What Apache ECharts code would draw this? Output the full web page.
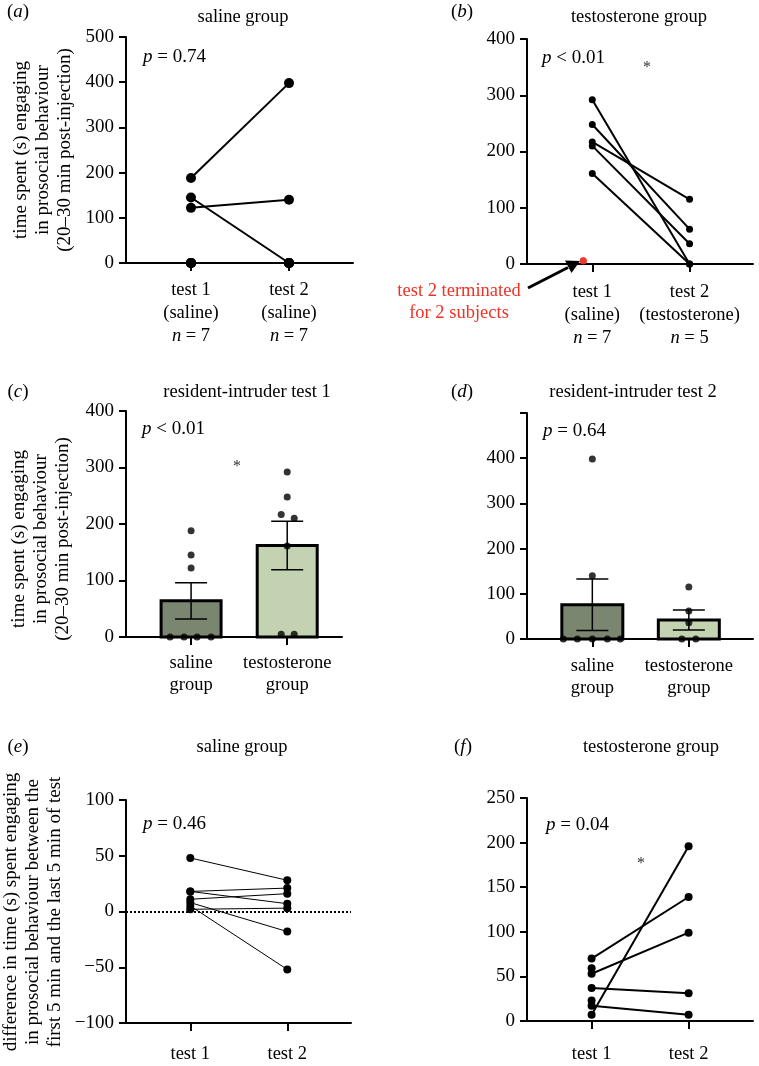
<!DOCTYPE html>
<html><head><meta charset="utf-8">
<script src="https://cdn.jsdelivr.net/npm/echarts@6/dist/echarts.min.js"></script>
<style>html,body{margin:0;padding:0;background:#fff}#c{width:759px;height:1066px}</style>
</head><body><div id="c"></div>
<script>
// ---------------- data ----------------
// (a) saline group, paired test1 -> test2
const aCats = ['test 1', 'test 2'];
const aSub = ['(saline)', '(saline)'];
const aN = [7, 7];
const aTest1 = [188, 122, 145, 0, 0, 0, 0];
const aTest2 = [398, 140, 0, 0, 0, 0, 0];
// (b) testosterone group (null = test 2 terminated)
const bCats = ['test 1', 'test 2'];
const bSub = ['(saline)', '(testosterone)'];
const bN = [7, 5];
const bTest1 = [292, 248, 217, 210, 161, 6, 6];
const bTest2 = [0, 62, 115, 36, 0, null, null];
// (c) resident-intruder test 1
const cCats = ['saline', 'testosterone'];
const cMeans = [64, 162];
const cSem = [32, 43];
const cSaline = [188, 145, 122, 0, 0, 0, 0];
const cTestost = [292, 248, 217, 210, 161, 5, 5];
// (d) resident-intruder test 2
const dCats = ['saline', 'testosterone'];
const dMeans = [76, 42];
const dSem = [57, 22];
const dSaline = [398, 140, 0, 0, 0, 0, 0];
const dTestost = [115, 62, 36, 0, 0];
// (e) saline group, difference first 5 min - last 5 min
const eCats = ['test 1', 'test 2'];
const eTest1 = [48, 18, 18, 11, 8, 5, 2];
const eTest2 = [28, 21, 7, 16, -18, -52, 3];
// (f) testosterone group
const fCats = ['test 1', 'test 2'];
const fTest1 = [70, 53, 37, 17, 7, 59, 23];
const fTest2 = [139, 99, 31, 7, 196, null, null];
// y axis ranges [min, max, interval]
const aY = [0, 500, 100], bY = [0, 400, 100], cY = [0, 400, 100], dY = [0, 500, 100], eY = [-100, 100, 50], fY = [0, 250, 50];

// ---------------- layout / style (not data) ----------------
const cSalJit = [0, 0, 0, -21, -7, 6, 20];
const cTesJit = [0, 0, -6, 7, 0, -6, 7];
const dSalJit = [0, 0, -29, -15, 0, 15, 28];
const dTesJit = [0, 0, 0, -7, 7];
const FONT = '"Liberation Serif","Times New Roman",serif';
const BAR_COLORS = ['#7b8670', '#c3d3b1'];
const RED = '#ee3326';

const chart = echarts.init(document.getElementById('c'), null, {renderer: 'canvas'});

const grids = [
  {left: 126, top: 37, width: 227, height: 226},
  {left: 527, top: 39, width: 226, height: 225},
  {left: 126, top: 411, width: 216, height: 226},
  {left: 527, top: 413, width: 226, height: 226},
  {left: 126, top: 800, width: 225, height: 225},
  {left: 527, top: 798, width: 226, height: 225}
];
const xRange = [[0.337, 2.653], [0.329, 2.652], [0.323, 2.57], [0.323, 2.665], [0.337, 2.657], [0.334, 2.664]];

const italicRich = {i: {fontStyle: 'italic', fontFamily: FONT, fontSize: 18.5, color: '#000', lineHeight: 23}};

function xAx(gi, fmt, margin, lh) {
  return {
    type: 'value', gridIndex: gi, min: xRange[gi][0], max: xRange[gi][1],
    axisLine: {onZero: false, lineStyle: {color: '#000', width: 2}},
    axisTick: {customValues: [1, 2], length: 8, lineStyle: {color: '#000', width: 2}},
    axisLabel: {customValues: [1, 2], formatter: fmt, margin: margin, color: '#000', fontSize: 18.5,
      fontFamily: FONT, lineHeight: lh, rich: italicRich},
    splitLine: {show: false}
  };
}
function yAx(gi, r, fmt) {
  return {
    type: 'value', gridIndex: gi, min: r[0], max: r[1], interval: r[2],
    axisLine: {onZero: false, show: true, lineStyle: {color: '#000', width: 2}},
    axisTick: {show: true, length: 7, lineStyle: {color: '#000', width: 2}},
    axisLabel: {color: '#000', fontSize: 19, fontFamily: FONT, margin: 12, formatter: fmt},
    splitLine: {show: false}
  };
}
const idx = v => Math.round(v) - 1;
const xAxes = [
  xAx(0, v => aCats[idx(v)] + '\n' + aSub[idx(v)] + '\n{i|n} = ' + aN[idx(v)], 16, 23),
  xAx(1, v => bCats[idx(v)] + '\n' + bSub[idx(v)] + '\n{i|n} = ' + bN[idx(v)], 17, 23),
  xAx(2, v => cCats[idx(v)] + '\ngroup', 15, 22),
  xAx(3, v => dCats[idx(v)] + '\ngroup', 16, 22),
  xAx(4, v => eCats[idx(v)], 20, 23),
  xAx(5, v => fCats[idx(v)], 22, 23)
];
const yAxes = [
  yAx(0, aY), yAx(1, bY), yAx(2, cY),
  yAx(3, dY, v => v === dY[1] ? '' : String(v)),
  yAx(4, eY, v => v < 0 ? '\u2212' + Math.abs(v) : String(v)),
  yAx(5, fY)
];

const series = [];
function pairLines(gi, t1, t2, size, lw) {
  t1.forEach((v, i) => {
    const data = [[1, v]];
    if (t2[i] !== null && t2[i] !== undefined) data.push([2, t2[i]]);
    series.push({
      type: 'line', xAxisIndex: gi, yAxisIndex: gi, data: data,
      symbol: 'circle', symbolSize: size, showSymbol: true,
      itemStyle: {color: '#000'}, lineStyle: {color: '#000', width: lw},
      silent: true, z: 3
    });
  });
}
// (a)
pairLines(0, aTest1, aTest2, 10, 2);
// (b)
(function () {
  const t1 = [], t2 = [];
  const red = [];
  bTest1.forEach((v, i) => {
    if (bTest2[i] === null) red.push(v);
    else { t1.push(v); t2.push(bTest2[i]); }
  });
  pairLines(1, t1, t2, 7, 2);
  series.push({
    type: 'scatter', xAxisIndex: 1, yAxisIndex: 1,
    data: red.map(v => ({value: [1, v], symbolOffset: [-9, 0]})),
    symbol: 'circle', symbolSize: 7, itemStyle: {color: RED}, silent: true, z: 20
  });
})();
// (e)
pairLines(4, eTest1, eTest2, 8, 1);
series.push({
  type: 'line', xAxisIndex: 4, yAxisIndex: 4, data: [], silent: true,
  markLine: {silent: true, symbol: 'none', label: {show: false},
    lineStyle: {color: '#000', width: 2, type: [2, 2]}, data: [{yAxis: 0}]}
});
// (f)
pairLines(5, fTest1, fTest2, 8, 2);

// bars + error bars
function barSeries(gi, means, sems, jitters, groups, barW) {
  series.push({
    type: 'custom', xAxisIndex: gi, yAxisIndex: gi,
    data: means.map((m, i) => [i + 1, m]),
    renderItem: function (params, api) {
      const x = api.value(0), m = api.value(1);
      const p0 = api.coord([x, 0]), p1 = api.coord([x, m]);
      return {type: 'rect', shape: {x: p0[0] - barW / 2, y: p1[1], width: barW, height: p0[1] - p1[1]},
        style: {fill: BAR_COLORS[params.dataIndex], stroke: '#000', lineWidth: 3}};
    }, silent: true, z: 2
  });
  series.push({
    type: 'custom', xAxisIndex: gi, yAxisIndex: gi,
    data: means.map((m, i) => [i + 1, m - sems[i], m + sems[i]]),
    renderItem: function (params, api) {
      const x = api.value(0);
      const lo = api.coord([x, api.value(1)]), hi = api.coord([x, api.value(2)]);
      const cw = 16;
      const st = {stroke: '#000', lineWidth: 1.5};
      return {type: 'group', children: [
        {type: 'line', shape: {x1: lo[0], y1: lo[1], x2: hi[0], y2: hi[1]}, style: st},
        {type: 'line', shape: {x1: hi[0] - cw, y1: hi[1], x2: hi[0] + cw, y2: hi[1]}, style: st},
        {type: 'line', shape: {x1: lo[0] - cw, y1: lo[1], x2: lo[0] + cw, y2: lo[1]}, style: st}
      ]};
    }, silent: true, z: 3
  });
  groups.forEach((vals, g) => {
    series.push({
      type: 'scatter', xAxisIndex: gi, yAxisIndex: gi,
      data: vals.map((v, i) => ({value: [g + 1, v], symbolOffset: [jitters[g][i], 0]})),
      symbol: 'circle', symbolSize: 7, itemStyle: {color: '#000'}, silent: true, z: 4
    });
  });
}
barSeries(2, cMeans, cSem, [cSalJit, cTesJit], [cSaline, cTestost], 60);
barSeries(3, dMeans, dSem, [dSalJit, dTesJit], [dSaline, dTestost], 61);

// ---------------- texts ----------------
function txt(x, y, text, o) {
  o = o || {};
  return {type: 'text', x: x, y: y, rotation: o.rot || 0, silent: true, z: 10,
    style: {text: text, fill: o.color || '#000', fontSize: o.size || 18.5, fontFamily: FONT,
      align: o.align || 'center', verticalAlign: 'middle', lineHeight: o.lh || 22,
      rich: {i: {fontStyle: 'italic', fontSize: o.size || 18.5, fontFamily: FONT, fill: o.color || '#000'}}}};
}
const yName1 = 'time spent (s) engaging\nin prosocial behaviour\n(20\u201330 min post-injection)';
const yName2 = 'difference in time (s) spent engaging\nin prosocial behaviour between the\nfirst 5 min and the last 5 min of test';
const graphics = [
  txt(18, 12, '({i|a})', {size: 19}), txt(243, 17, 'saline group'),
  txt(462, 12, '({i|b})', {size: 19}), txt(639, 17, 'testosterone group'),
  txt(18, 392, '({i|c})', {size: 19}), txt(247, 392, 'resident-intruder test 1'),
  txt(462, 392, '({i|d})', {size: 19}), txt(633, 392, 'resident-intruder test 2'),
  txt(18, 747, '({i|e})', {size: 19}), txt(242, 747, 'saline group'),
  txt(463, 747, '({i|f})', {size: 19}), txt(651, 747, 'testosterone group'),
  txt(143, 57, '{i|p} = 0.74', {align: 'left', size: 19}),
  txt(542, 58, '{i|p} < 0.01', {align: 'left', size: 19}),
  txt(142, 429, '{i|p} < 0.01', {align: 'left', size: 19}),
  txt(543, 431, '{i|p} = 0.64', {align: 'left', size: 19}),
  txt(143, 824, '{i|p} = 0.46', {align: 'left', size: 19}),
  txt(546, 825, '{i|p} = 0.04', {align: 'left', size: 19}),
  txt(647, 68, '*', {size: 16, color: '#333'}),
  txt(237, 467, '*', {size: 16, color: '#333'}),
  txt(641, 864, '*', {size: 16, color: '#333'}),
  txt(43, 150, yName1, {rot: Math.PI / 2, size: 19, lh: 22}),
  txt(41, 539, yName1, {rot: Math.PI / 2, size: 19, lh: 22}),
  txt(33, 912, yName2, {rot: Math.PI / 2, size: 19, lh: 22}),
  txt(459, 302, 'test 2 terminated\nfor 2 subjects', {color: RED, size: 18.5, lh: 22}),
  {type: 'line', silent: true, z: 1, shape: {x1: 528, y1: 288, x2: 568, y2: 267.5},
    style: {stroke: '#000', lineWidth: 3}},
  {type: 'polygon', silent: true, z: 1, shape: {points: [[580, 261], [571.5, 273], [565, 260.5]]},
    style: {fill: '#000'}}
];

chart.setOption({
  animation: false,
  backgroundColor: '#fff',
  textStyle: {fontFamily: FONT},
  grid: grids,
  xAxis: xAxes,
  yAxis: yAxes,
  series: series,
  graphic: graphics
});
</script></body></html>
